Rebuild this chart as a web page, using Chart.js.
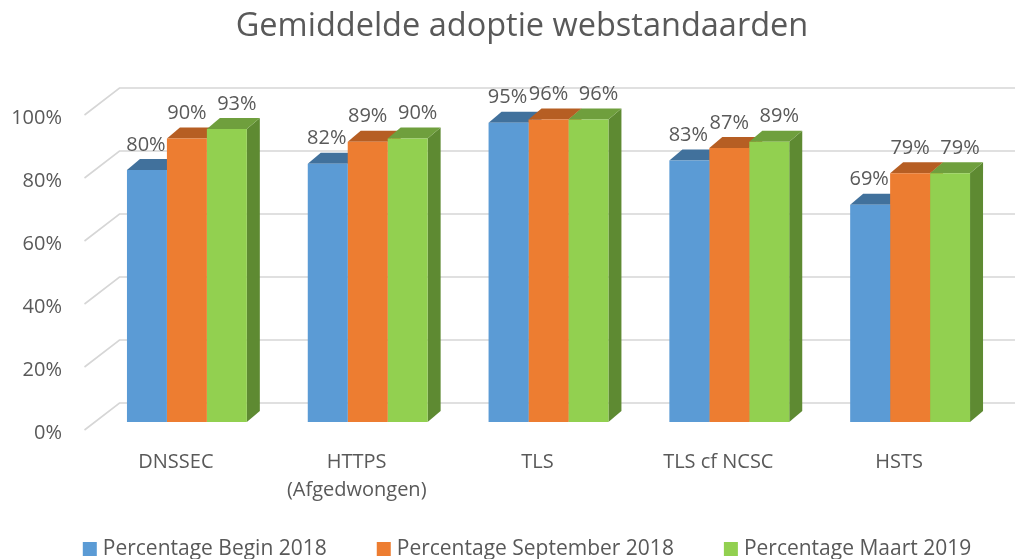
<!DOCTYPE html>
<html>
<head>
<meta charset="utf-8">
<script src="https://cdn.jsdelivr.net/npm/chart.js@4"></script>
<style>
  html, body { margin: 0; padding: 0; background: #fff; }
  #wrap { width: 1015px; height: 559px; }
</style>
</head>
<body>
<div id="wrap"><canvas id="chart"></canvas></div>
<script>
// data
const chartTitle = 'Gemiddelde adoptie webstandaarden';
const categories = ['DNSSEC', ['HTTPS', '(Afgedwongen)'], 'TLS', 'TLS cf NCSC', 'HSTS'];
const seriesNames = ['Percentage Begin 2018', 'Percentage September 2018', 'Percentage Maart 2019'];
const beginValues = [80, 82, 95, 83, 69];
const septemberValues = [90, 89, 96, 87, 79];
const maartValues = [93, 90, 96, 89, 79];
const yTicks = [0, 20, 40, 60, 80, 100];

// styling
const frontColors = ['#5b9bd5', '#ed7d31', '#92d050'];
const topColors = ['#41719c', '#b65e23', '#6f9f3d'];
const sideColors = ['#4a7fb0', '#c0651f', '#5e8a32'];
const labelShift = [-1, 0, 10];
const DX = 13, DY = 11;       // bar depth
const textGray = '#595959';

// 3d walls, bar tops and sides, value labels, title and legend
const bars3d = {
  id: 'bars3d',
  beforeDatasetsDraw(chart) {
    const { ctx, chartArea, scales: { y } } = chart;
    ctx.save();
    ctx.strokeStyle = '#d6d6d6';
    ctx.lineWidth = 1.6;
    yTicks.forEach(v => {
      const py = y.getPixelForValue(v);
      ctx.beginPath();
      ctx.moveTo(chartArea.left - 12, py + 8);
      ctx.lineTo(chartArea.left + 23, py - 19);
      ctx.lineTo(chart.width, py - 19);
      ctx.stroke();
    });
    chart.data.datasets.forEach((ds, i) => {
      chart.getDatasetMeta(i).data.forEach(bar => {
        const { x, y: top, base, width } = bar.getProps(['x', 'y', 'base', 'width'], true);
        const l = x - width / 2, r = x + width / 2;
        ctx.fillStyle = sideColors[i];
        ctx.beginPath();
        ctx.moveTo(r, top);
        ctx.lineTo(r + DX, top - DY);
        ctx.lineTo(r + DX, base - DY);
        ctx.lineTo(r, base);
        ctx.closePath();
        ctx.fill();
        ctx.fillStyle = topColors[i];
        ctx.beginPath();
        ctx.moveTo(l, top);
        ctx.lineTo(l + DX, top - DY);
        ctx.lineTo(r + DX, top - DY);
        ctx.lineTo(r, top);
        ctx.closePath();
        ctx.fill();
      });
    });
    ctx.restore();
  },
  afterDatasetsDraw(chart) {
    const { ctx } = chart;
    ctx.save();
    ctx.font = '20px "Open Sans"';
    ctx.fillStyle = textGray;
    ctx.textAlign = 'center';
    ctx.textBaseline = 'middle';
    chart.data.datasets.forEach((ds, i) => {
      chart.getDatasetMeta(i).data.forEach((bar, j) => {
        ctx.fillText(ds.data[j] + '%', bar.x + labelShift[i], bar.y - 25);
      });
    });
    ctx.restore();
  },
  afterDraw(chart) {
    const { ctx } = chart;
    ctx.save();
    ctx.fillStyle = textGray;
    ctx.textBaseline = 'middle';
    // title
    ctx.font = '32.5px "Open Sans"';
    ctx.textAlign = 'center';
    ctx.fillText(chartTitle, 522, 27);
    // legend
    ctx.font = '21px "Open Sans"';
    ctx.textAlign = 'left';
    const items = chart.data.datasets.map(ds => ({
      text: ds.label, color: ds.backgroundColor, w: 20 + ctx.measureText(ds.label).width
    }));
    const total = items.reduce((s, it) => s + it.w, 0) + 50 * (items.length - 1);
    let x = 527 - total / 2;
    items.forEach(it => {
      ctx.fillStyle = it.color;
      ctx.fillRect(x, 542, 14, 14);
      ctx.fillStyle = textGray;
      ctx.fillText(it.text, x + 20, 549);
      x += it.w + 50;
    });
    ctx.restore();
  }
};

const allValues = [beginValues, septemberValues, maartValues];

new Chart(document.getElementById('chart'), {
  type: 'bar',
  data: {
    labels: categories,
    datasets: allValues.map((vals, i) => ({
      label: seriesNames[i],
      data: vals,
      backgroundColor: frontColors[i],
      borderWidth: 0,
      categoryPercentage: 0.663,
      barPercentage: 1.0
    }))
  },
  options: {
    responsive: true,
    maintainAspectRatio: false,
    animation: false,
    devicePixelRatio: 1,
    layout: { padding: { left: 5, right: 14.5, top: 107, bottom: 0 } },
    scales: {
      x: {
        grid: { display: false, drawTicks: false },
        border: { display: false },
        ticks: {
          color: textGray,
          font: { family: 'Open Sans', size: 20, lineHeight: 1.4 },
          padding: 26,
          labelOffset: -11,
          maxRotation: 0
        },
        afterFit: s => { s.height = 137; }
      },
      y: {
        min: 0,
        max: 100,
        grid: { display: false, drawTicks: false },
        border: { display: false },
        afterBuildTicks: s => { s.ticks = yTicks.map(v => ({ value: v })); },
        ticks: {
          color: textGray,
          font: { family: 'Open Sans', size: 20 },
          padding: 34.5,
          labelOffset: 11,
          callback: v => v + '%'
        },
        afterFit: s => { s.width = 91.5; }
      }
    },
    plugins: {
      title: { display: false },
      legend: { display: false },
      tooltip: { enabled: false }
    }
  },
  plugins: [bars3d]
});
</script>
</body>
</html>
